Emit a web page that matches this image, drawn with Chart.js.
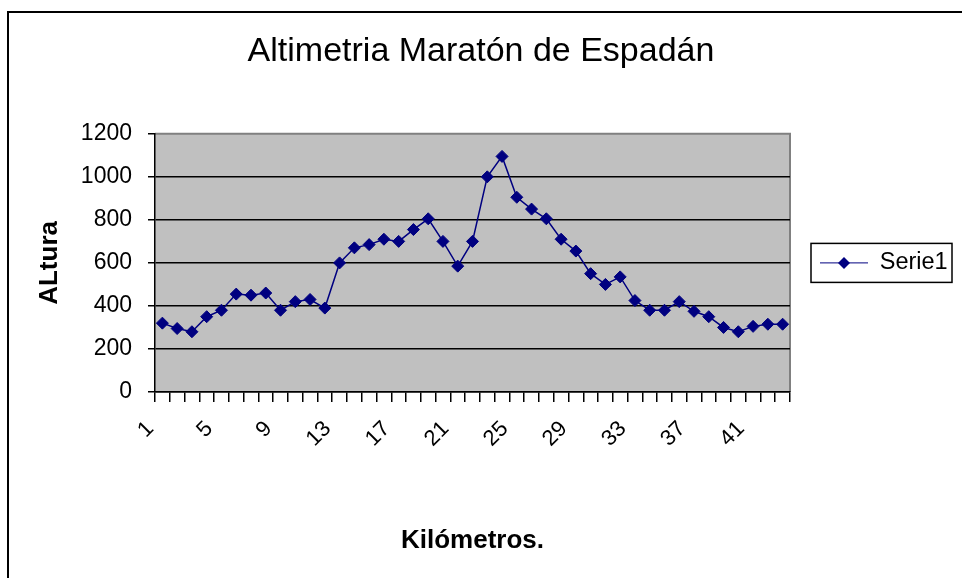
<!DOCTYPE html>
<html>
<head>
<meta charset="utf-8">
<title>Altimetria Maratón de Espadán</title>
<script src="https://cdn.jsdelivr.net/npm/chart.js@4.4.1/dist/chart.umd.min.js"></script>
<style>
  html, body { margin: 0; padding: 0; background: #fff; }
  canvas { display: block; }
</style>
</head>
<body>
<canvas id="altimetria" width="962" height="578"></canvas>
<script>
const kilometros = ['1','2','3','4','5','6','7','8','9','10','11','12','13','14','15','16','17','18','19','20','21','22',
                    '23','24','25','26','27','28','29','30','31','32','33','34','35','36','37','38','39','40','41','42','43'];
const altura = [320, 295, 280, 350, 380, 455, 450, 460, 380, 420, 430, 390, 600, 670, 685, 710, 700, 755, 805, 700, 585, 700,
                1000, 1095, 905, 850, 805, 710, 655, 550, 500, 535, 425, 380, 380, 420, 375, 350, 300, 280, 305, 315, 315];
const etiquetasX = ['1','5','9','13','17','21','25','29','33','37','41'];
const ticksY = [0, 200, 400, 600, 800, 1000, 1200];

const navy = '#000080';
const fontFamily = '"Liberation Sans", Arial, sans-serif';
const anchoMuestra = 48; // legend line sample

// plot background, outer frame, legend width and the boxed legend marker
const excelLook = {
    id: 'excelLook',
    beforeLayout(chart) {
        const lg = chart.legend;
        if (lg && !lg._anchoFijo) {
            const fit = lg.fit;
            lg.fit = function () { fit.call(this); this.width = 172; };
            lg._anchoFijo = true;
        }
    },
    beforeDraw(chart) {
        const { ctx, chartArea: a } = chart;
        ctx.save();
        ctx.fillStyle = '#fff';
        ctx.fillRect(0, 0, chart.width, chart.height);
        ctx.fillStyle = '#C0C0C0';
        ctx.fillRect(a.left, a.top, a.right - a.left, a.bottom - a.top);
        ctx.strokeStyle = '#808080';
        ctx.lineWidth = 2;
        ctx.beginPath();
        ctx.moveTo(a.left, a.top);
        ctx.lineTo(a.right, a.top);
        ctx.lineTo(a.right, a.bottom);
        ctx.stroke();
        ctx.strokeStyle = '#000';
        ctx.lineWidth = 2;
        ctx.strokeRect(8, 12, chart.width + 20, chart.height + 20);
        ctx.restore();
    },
    afterDraw(chart) {
        const hb = chart.legend.legendHitBoxes[0];
        if (!hb) return;
        const { ctx } = chart;
        const cx = hb.left + anchoMuestra / 2;
        const cy = hb.top + hb.height / 2;
        ctx.save();
        ctx.fillStyle = navy;
        ctx.beginPath();
        ctx.moveTo(cx, cy - 6);
        ctx.lineTo(cx + 6, cy);
        ctx.lineTo(cx, cy + 6);
        ctx.lineTo(cx - 6, cy);
        ctx.closePath();
        ctx.fill();
        ctx.strokeStyle = '#000';
        ctx.lineWidth = 1.5;
        ctx.strokeRect(hb.left - 9, cy - 19.5, 141, 39);
        ctx.restore();
    }
};

new Chart(document.getElementById('altimetria'), {
    type: 'line',
    data: {
        labels: kilometros,
        datasets: [{
            label: 'Serie1',
            data: altura,
            borderColor: navy,
            backgroundColor: navy,
            borderWidth: 1.5,
            pointStyle: 'rectRot',
            pointRadius: 6,
            pointBorderWidth: 1,
            pointBackgroundColor: navy,
            pointBorderColor: navy,
            tension: 0
        }]
    },
    options: {
        responsive: false,
        animation: false,
        layout: { padding: 0 },
        plugins: {
            title: {
                display: true,
                text: 'Altimetria Maratón de Espadán',
                color: '#000',
                font: { family: fontFamily, size: 34, weight: 'normal' },
                padding: { top: 31, bottom: 62 }
            },
            legend: {
                position: 'right',
                fullSize: false,
                labels: {
                    color: '#000',
                    font: { family: fontFamily, size: 23.5 },
                    usePointStyle: true,
                    pointStyle: 'line',
                    pointStyleWidth: anchoMuestra,
                    boxHeight: 10,
                    padding: 30
                }
            },
            tooltip: { enabled: false }
        },
        scales: {
            x: {
                offset: true,
                afterFit(scale) { scale.height = 186; },
                grid: {
                    offset: true,
                    drawOnChartArea: false,
                    drawTicks: true,
                    tickLength: 10,
                    color: '#000',
                    lineWidth: 1.5
                },
                border: { color: '#000', width: 1.5 },
                ticks: {
                    autoSkip: false,
                    minRotation: 45,
                    maxRotation: 45,
                    padding: 14,
                    labelOffset: -12,
                    color: '#000',
                    font: { family: fontFamily, size: 22 },
                    callback(value, index) {
                        const lab = kilometros[index];
                        return etiquetasX.includes(lab) ? lab : '';
                    }
                },
                title: {
                    display: true,
                    text: 'Kilómetros.',
                    color: '#000',
                    font: { family: fontFamily, size: 26, weight: 'bold' },
                    padding: { top: 0, bottom: 22 }
                }
            },
            y: {
                min: ticksY[0],
                max: ticksY[ticksY.length - 1],
                afterFit(scale) { scale.width = 155; },
                afterBuildTicks(scale) { scale.ticks = ticksY.map(v => ({ value: v })); },
                grid: {
                    color: ctx => (ctx.tick && ctx.tick.value === 1200) ? 'rgba(0,0,0,0)' : '#000',
                    tickColor: '#000',
                    tickLength: 7,
                    lineWidth: 1.5
                },
                border: { color: '#000', width: 1.5 },
                ticks: {
                    padding: 16,
                    color: '#000',
                    font: { family: fontFamily, size: 23 },
                    callback: value => String(value)
                },
                title: {
                    display: true,
                    text: 'ALtura',
                    color: '#000',
                    font: { family: fontFamily, size: 26, weight: 'bold' },
                    padding: { top: 34, bottom: 0 }
                }
            }
        }
    },
    plugins: [excelLook]
});
</script>
</body>
</html>
